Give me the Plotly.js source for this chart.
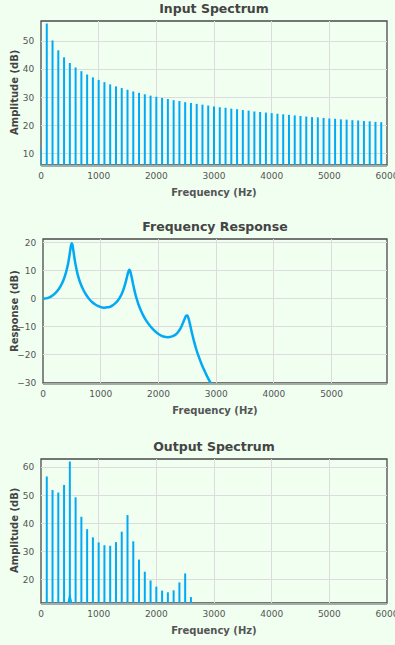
<!DOCTYPE html>
<html>
<head>
<meta charset="utf-8">
<script src="https://cdn.plot.ly/plotly-3.0.1.min.js"></script>
<style>
  html, body { margin: 0; padding: 0; background: #f0fff0; width: 395px; height: 645px; overflow: hidden; }
  .chart { position: absolute; left: 0; width: 395px; height: 219px; }
</style>
</head>
<body>
<div id="c1" class="chart" style="top:0px"></div>
<div id="c2" class="chart" style="top:218px"></div>
<div id="c3" class="chart" style="top:438px"></div>
<script>
// ---------- data ----------
const inputFreqs = [0, 100, 200, 300, 400, 500, 600, 700, 800, 900, 1000, 1100, 1200, 1300, 1400, 1500,
  1600, 1700, 1800, 1900, 2000, 2100, 2200, 2300, 2400, 2500, 2600, 2700, 2800, 2900, 3000,
  3100, 3200, 3300, 3400, 3500, 3600, 3700, 3800, 3900, 4000, 4100, 4200, 4300, 4400, 4500,
  4600, 4700, 4800, 4900, 5000, 5100, 5200, 5300, 5400, 5500, 5600, 5700, 5800, 5900];
const inputAmps = [12.0, 56.2, 50.2, 46.7, 44.2, 42.2, 40.6, 39.3, 38.1, 37.1, 36.2, 35.4, 34.6, 33.9, 33.3, 32.7,
  32.1, 31.6, 31.1, 30.6, 30.2, 29.8, 29.4, 29.0, 28.7, 28.3, 28.0, 27.7, 27.4, 27.1, 26.8,
  26.5, 26.3, 26.0, 25.8, 25.5, 25.3, 25.0, 24.8, 24.6, 24.4, 24.2, 24.0, 23.8, 23.6, 23.4,
  23.2, 23.0, 22.9, 22.7, 22.5, 22.4, 22.2, 22.1, 21.9, 21.8, 21.6, 21.5, 21.3, 21.2];

const respFreqs = [0, 50, 100, 150, 200, 250, 300, 350, 400, 420, 440, 455, 470, 480, 490, 500, 510, 520, 530,
  545, 560, 580, 600, 650, 700, 750, 800, 850, 900, 950, 1000, 1050, 1100, 1150, 1200, 1250, 1300, 1340, 1380,
  1410, 1430, 1450, 1470, 1490, 1500, 1510, 1530, 1545, 1560, 1575, 1600, 1625, 1650, 1700, 1750, 1800, 1900,
  2000, 2100, 2200, 2250, 2300, 2340, 2380, 2410, 2430, 2450, 2470, 2490, 2500, 2510, 2530, 2545, 2560, 2580,
  2600, 2650, 2700, 2750, 2800, 2850, 2900, 3000];
const respDb = [0, 0.1, 0.4, 0.9, 1.7, 2.8, 4.3, 6.4, 9.5, 11.1, 13.1, 15.0, 17.0, 18.4, 19.4, 19.8, 19.2, 18.0, 16.6,
  14.5, 12.6, 10.5, 8.7, 5.4, 3.1, 1.3, -0.1, -1.2, -2.0, -2.6, -3.0, -3.2, -3.1, -3.0, -2.5, -1.7, -0.6, 0.7, 2.5,
  4.3, 5.7, 7.3, 9.0, 10.2, 10.3, 9.9, 8.3, 6.8, 5.2, 3.8, 1.6, -0.2, -1.8, -4.4, -6.5, -8.2, -10.8,
  -12.6, -13.6, -13.7, -13.4, -12.8, -11.9, -10.7, -9.4, -8.4, -7.4, -6.4, -6.0, -6.0, -6.4, -7.7, -9.0, -10.4, -12.2,
  -13.9, -17.7, -20.8, -23.5, -25.8, -28.0, -29.9, -33.4];

const outputFreqs = [100, 200, 300, 400, 500, 600, 700, 800, 900, 1000, 1100, 1200, 1300, 1400, 1500,
  1600, 1700, 1800, 1900, 2000, 2100, 2200, 2300, 2400, 2500, 2600];
const outputAmps = [56.7, 51.9, 51.0, 53.7, 62.0, 49.3, 42.4, 38.0, 35.1, 33.3, 32.3, 32.1, 33.4, 37.1, 43.0,
  33.7, 27.2, 22.9, 19.8, 17.6, 16.2, 15.6, 16.3, 19.1, 22.3, 13.9];
const leakFreqs = [460, 500, 540];
const leakAmps = [11.0, 14.8, 11.0];

// ---------- styling ----------
const BLUE = '#03a9f4';
const BG = '#f0fff0';
const FONT = 'DejaVu Sans, Verdana, sans-serif';
const W = 395, H = 219, R = 8;

function spikes(freqs, amps, floor) {
  const x = [], y = [];
  freqs.forEach((f, i) => { x.push(f, f, null); y.push(floor, amps[i], null); });
  return { x, y };
}

function layoutFor(title, ytitle, xr, yr, left) {
  const plotW = W - left - R;
  return {
    width: W, height: H,
    paper_bgcolor: BG, plot_bgcolor: BG,
    margin: { l: left, r: R, t: 21, b: 54, pad: 0 },
    showlegend: false, hovermode: false,
    title: { text: '<b>' + title + '</b>', font: { family: FONT, size: 12.5, color: '#444' },
             xref: 'paper', x: 0.5, xanchor: 'center', yref: 'container', y: 1 - 9 / H, yanchor: 'middle' },
    xaxis: {
      range: xr, dtick: 1000, tick0: 0, showgrid: true, gridcolor: '#dcdcdc', gridwidth: 1,
      zeroline: false, showline: true, linecolor: '#a4ada4', linewidth: 2,
      ticks: 'outside', ticklen: 1, tickcolor: 'rgba(0,0,0,0)',
      ticklabeloverflow: 'allow',
      tickfont: { family: FONT, size: 9, color: '#555' },
      title: { text: '<b>Frequency (Hz)</b>', font: { family: FONT, size: 10, color: '#555' }, standoff: 9 },
      automargin: false
    },
    yaxis: {
      range: yr, dtick: 10, showgrid: true, gridcolor: '#dcdcdc', gridwidth: 1,
      zeroline: false, showline: false,
      ticks: 'outside', ticklen: 4, tickcolor: 'rgba(0,0,0,0)',
      tickfont: { family: FONT, size: 9, color: '#555' },
      automargin: false
    },
    annotations: [{
      text: '<b>' + ytitle + '</b>', font: { family: FONT, size: 10, color: '#444' },
      xref: 'paper', yref: 'paper', x: (14 - left) / plotW, y: 0.5,
      xanchor: 'center', yanchor: 'middle', textangle: -90, showarrow: false
    }],
    shapes: [{ type: 'rect', xref: 'paper', yref: 'paper', x0: 0, x1: 1, y0: 0, y1: 1,
               line: { color: '#4a4a4a', width: 1.3 }, layer: 'below' }]
  };
}
const cfg = { displayModeBar: false, staticPlot: true };

// Input spectrum
const inR = [6, 57.1];
const s1 = spikes(inputFreqs, inputAmps, inR[0] - 10);
Plotly.newPlot('c1', [{ type: 'scatter', mode: 'lines', x: s1.x, y: s1.y, line: { color: BLUE, width: 2 } }],
  layoutFor('Input Spectrum', 'Amplitude (dB)', [0, 6000], inR, 41), cfg);

// Frequency response
Plotly.newPlot('c2', [{ type: 'scatter', mode: 'lines', x: respFreqs, y: respDb,
  line: { color: BLUE, width: 2.5, shape: 'spline', smoothing: 0.6 } }],
  layoutFor('Frequency Response', 'Response (dB)', [0, 5960], [-30.1, 21.3], 43), cfg);

// Output spectrum
const outR = [11.8, 62.9];
const s3 = spikes(outputFreqs, outputAmps, outR[0] - 10);
Plotly.newPlot('c3', [
  { type: 'scatter', mode: 'lines', x: s3.x, y: s3.y, line: { color: BLUE, width: 2 } },
  { type: 'scatter', mode: 'lines', x: leakFreqs, y: leakAmps, line: { color: BLUE, width: 1.3 } }
], layoutFor('Output Spectrum', 'Amplitude (dB)', [0, 6000], outR, 41), cfg);
</script>
</body>
</html>
